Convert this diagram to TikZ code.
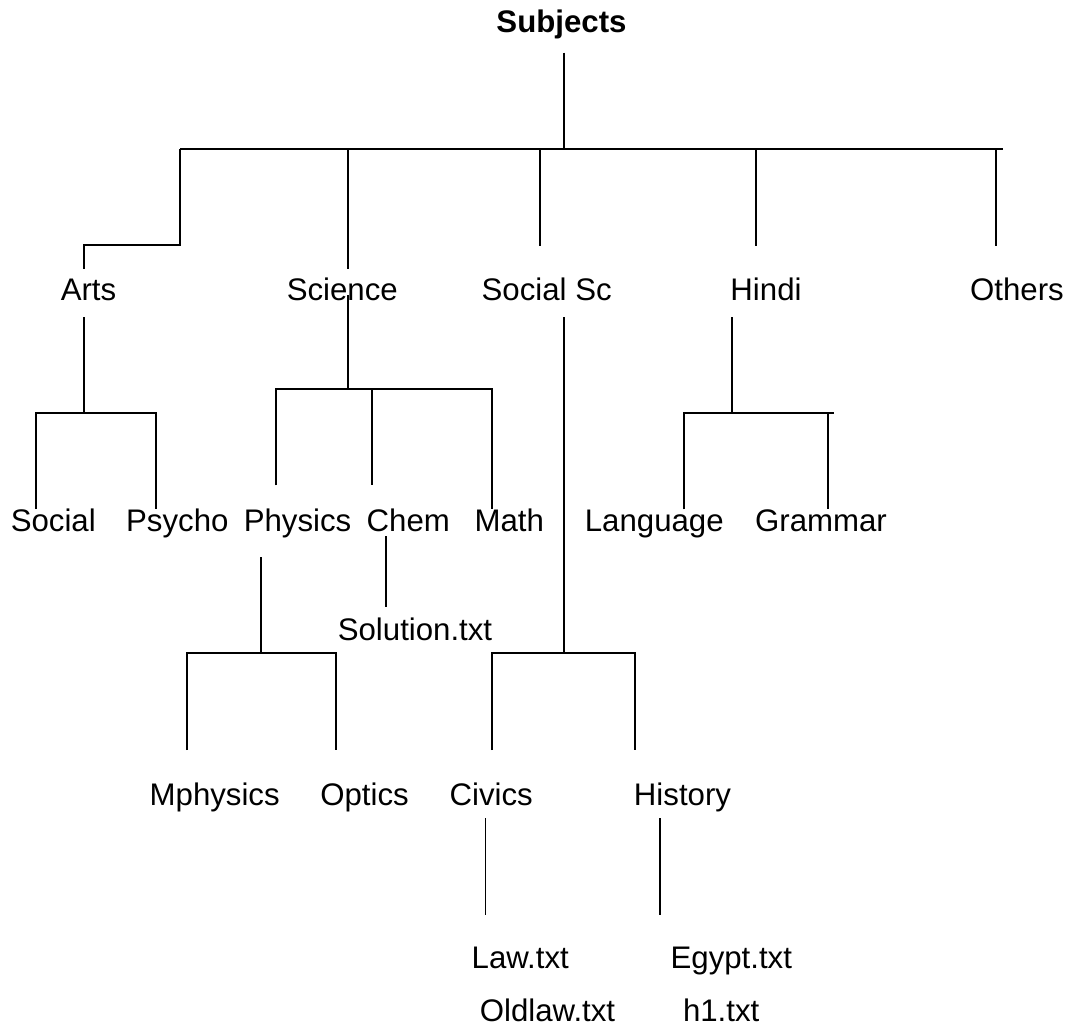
\documentclass[tikz,border=0pt]{standalone}
\usepackage{fontspec}
\setmainfont{Liberation Sans}

\begin{document}
\begin{tikzpicture}[x=1pt,y=-1pt,
		lbl/.style={anchor=base,inner sep=0pt,font=\fontsize{31.2}{36}\selectfont},
		ln/.style={line width=2pt},
		thin ln/.style={line width=1.4pt}]
		\useasboundingbox (0,0) rectangle (1072,1026);
		%
		\node (subjects)   at (561.5,32)  [lbl,font=\fontsize{31.2}{36}\selectfont\bfseries] {Subjects};
		%
		\node (arts)       at (88.5,300)  [lbl] {Arts};
		\node (science)    at (342.3,300) [lbl] {Science};
		\node (socialsc)   at (546.7,300) [lbl] {Social Sc};
		\node (hindi)      at (766,300)   [lbl] {Hindi};
		\node (others)     at (1017,300)  [lbl] {Others};
		%
		\node (social)     at (53.3,531.7)  [lbl] {Social};
		\node (psycho)     at (177.3,531.7) [lbl] {Psycho};
		\node (physics)    at (297.5,531.7) [lbl] {Physics};
		\node (chem)       at (408.3,531.7) [lbl] {Chem};
		\node (math)       at (509.3,531.7) [lbl] {Math};
		\node (language)   at (654.3,531.7) [lbl] {Language};
		\node (grammar)    at (821,531.7)   [lbl] {Grammar};
		%
		\node (solution)   at (415,640)   [lbl] {Solution.txt};
		%
		\node (mphysics)   at (214.7,805) [lbl] {Mphysics};
		\node (optics)     at (364.5,805) [lbl] {Optics};
		\node (civics)     at (491.2,805) [lbl] {Civics};
		\node (history)    at (682.5,805) [lbl] {History};
		%
		\node (law)        at (520.3,968.3) [lbl] {Law.txt};
		\node (egypt)      at (731.3,968.3) [lbl] {Egypt.txt};
		\node (oldlaw)     at (547.5,1021)  [lbl] {Oldlaw.txt};
		\node (hone)       at (721.2,1021)  [lbl] {h1.txt};
		%
		% ends of the connectors
		\coordinate (subjectsB) at (563.7,52.7);
		\coordinate (barL)      at (180,149.3);
		\coordinate (barR)      at (1003,149.3);
		\coordinate (artsT)     at (83.7,269);
		\coordinate (scienceT)  at (348,269);
		\coordinate (socialscT) at (540,245.7);
		\coordinate (hindiT)    at (755.7,245.7);
		\coordinate (othersT)   at (996,245.7);
		%
		\coordinate (artsB)     at (83.7,317);
		\coordinate (artsJ)     at (83.7,412.7);
		\coordinate (socialT)   at (36,509);
		\coordinate (psychoT)   at (155.7,509);
		%
		\coordinate (scienceB)  at (348,295);
		\coordinate (scienceJ)  at (348,389.3);
		\coordinate (physicsT)  at (275.7,485.3);
		\coordinate (chemT)     at (372,485.3);
		\coordinate (mathT)     at (492,509.3);
		%
		\coordinate (socialscB) at (563.7,317);
		\coordinate (socialscJ) at (563.7,653.3);
		\coordinate (civicsT)   at (491.7,750);
		\coordinate (historyT)  at (635.3,750);
		%
		\coordinate (hindiB)    at (732.3,317);
		\coordinate (hindiJ)    at (732.3,412.7);
		\coordinate (hindiE)    at (834,412.7);
		\coordinate (languageT) at (683.7,509.3);
		\coordinate (grammarT)  at (827.7,509.3);
		%
		\coordinate (physicsB)  at (261,557.3);
		\coordinate (physicsJ)  at (261,653.3);
		\coordinate (mphysicsT) at (186.7,750);
		\coordinate (opticsT)   at (336,750);
		%
		\coordinate (chemB)     at (385.7,536);
		\coordinate (solutionT) at (385.7,607.3);
		%
		\coordinate (civicsB)   at (485.7,818.3);
		\coordinate (lawT)      at (485.7,915);
		\coordinate (historyB)  at (660,818.3);
		\coordinate (egyptT)    at (660,915);
		%
		% 1
		\draw[ln] (subjectsB) -- (subjectsB |- barL);
		\draw[ln] (barL) -- (barR);
		\draw[ln] (barL) -- ++(0,96) -| (artsT);
		\foreach \c in {scienceT,socialscT,hindiT,othersT}
			\draw[ln] (\c |- barL) -- (\c);
		% 2
		\draw[ln] (artsB) -- (artsJ);
		\draw[ln] (socialT) |- (psychoT |- artsJ) -- (psychoT);
		\draw[ln] (scienceB) -- (scienceJ);
		\draw[ln] (physicsT) |- (mathT |- scienceJ) -- (mathT);
		\draw[ln] (chemT |- scienceJ) -- (chemT);
		\draw[ln] (hindiB) -- (hindiJ);
		\draw[ln] (languageT) |- (hindiE);
		\draw[ln] (grammarT |- hindiJ) -- (grammarT);
		% 3
		\draw[ln] (chemB) -- (solutionT);
		\draw[ln] (physicsB) -- (physicsJ);
		\draw[ln] (mphysicsT) |- (opticsT |- physicsJ) -- (opticsT);
		\draw[ln] (socialscB) -- (socialscJ);
		\draw[ln] (civicsT) |- (historyT |- socialscJ) -- (historyT);
		% 4
		\draw[thin ln] (civicsB) -- (lawT);
		\draw[thin ln] (historyB) -- (egyptT);
	\end{tikzpicture}
\end{document}
